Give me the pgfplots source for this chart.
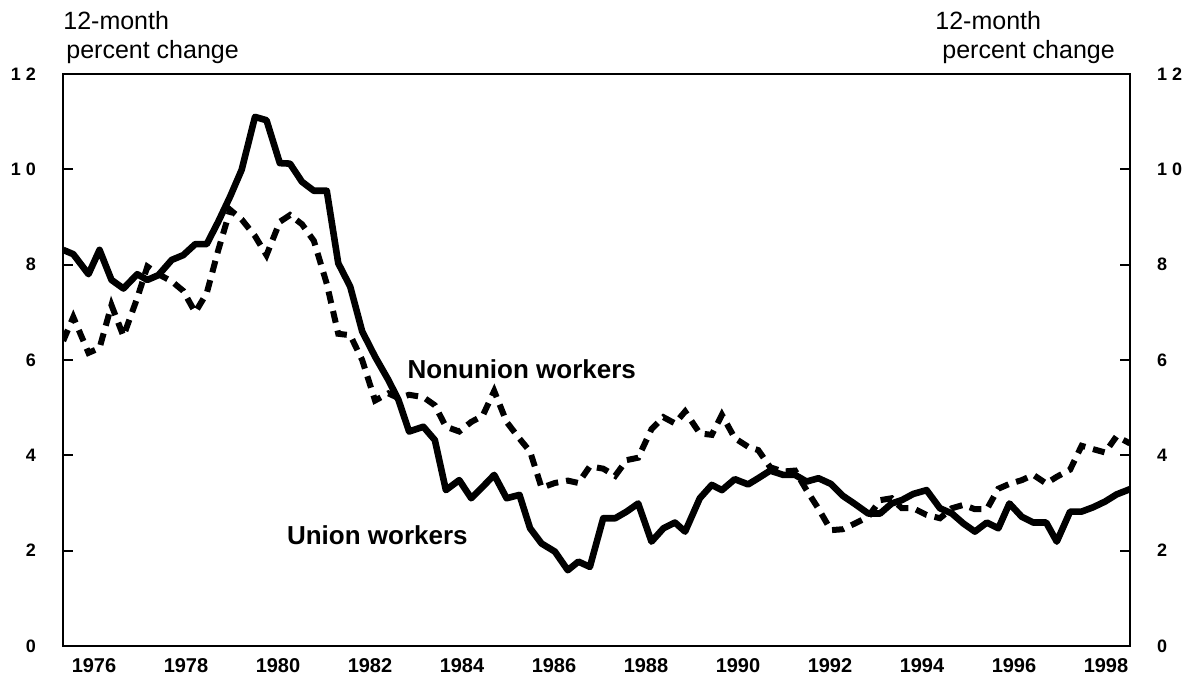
\documentclass[border=0pt]{standalone}
\usepackage{pgfplots}
\usepackage{pgfplotstable}
\pgfplotsset{compat=1.18}
\usepackage{fontspec}
\setmainfont{Liberation Sans}

\pgfplotstableread{
year union nonunion
1975.33 8.31 6.40
1975.55 8.22 6.90
1975.88 7.80 6.15
1976.12 8.31 6.25
1976.38 7.68 7.15
1976.64 7.50 6.50
1976.94 7.80 7.30
1977.16 7.68 7.96
1977.40 7.78 7.80
1977.69 8.10 7.65
1977.94 8.20 7.45
1978.20 8.43 7.00
1978.45 8.43 7.40
1978.70 8.90 8.30
1978.96 9.43 9.15
1979.21 9.99 8.95
1979.50 11.10 8.60
1979.75 11.03 8.20
1980.04 10.13 8.90
1980.26 10.12 9.04
1980.52 9.74 8.85
1980.78 9.55 8.50
1981.06 9.55 7.60
1981.31 8.03 6.55
1981.57 7.54 6.52
1981.83 6.60 6.00
1982.11 6.07 5.15
1982.40 5.58 5.30
1982.62 5.16 5.20
1982.85 4.50 5.27
1983.16 4.60 5.22
1983.41 4.32 5.05
1983.65 3.27 4.60
1983.94 3.48 4.50
1984.20 3.10 4.70
1984.45 3.34 4.83
1984.70 3.59 5.35
1984.97 3.10 4.70
1985.25 3.17 4.35
1985.48 2.47 4.08
1985.73 2.15 3.32
1986.02 1.98 3.42
1986.30 1.59 3.47
1986.53 1.77 3.42
1986.78 1.66 3.77
1987.07 2.68 3.72
1987.33 2.68 3.57
1987.58 2.82 3.90
1987.83 2.99 3.95
1988.12 2.19 4.55
1988.38 2.47 4.80
1988.63 2.59 4.67
1988.85 2.40 4.92
1989.17 3.10 4.46
1989.43 3.38 4.43
1989.65 3.27 4.85
1989.93 3.50 4.36
1990.22 3.39 4.18
1990.44 3.52 4.11
1990.70 3.68 3.75
1990.98 3.59 3.66
1991.24 3.59 3.68
1991.49 3.45 3.27
1991.75 3.52 2.88
1992.02 3.40 2.43
1992.28 3.15 2.45
1992.54 2.98 2.57
1992.83 2.78 2.71
1993.09 2.78 3.06
1993.34 2.99 3.10
1993.56 3.06 2.89
1993.81 3.19 2.89
1994.10 3.27 2.75
1994.39 2.89 2.68
1994.65 2.78 2.89
1994.90 2.57 2.96
1995.15 2.40 2.87
1995.41 2.59 2.87
1995.66 2.47 3.30
1995.90 2.99 3.40
1996.17 2.71 3.48
1996.42 2.59 3.59
1996.70 2.59 3.41
1996.93 2.19 3.55
1997.22 2.82 3.70
1997.47 2.82 4.20
1997.72 2.91 4.13
1997.98 3.03 4.06
1998.23 3.18 4.40
1998.52 3.29 4.25
}\data

\begin{document}
\begin{tikzpicture}
\path[use as bounding box] (-31.5pt,-17.5pt) rectangle (560pt,323pt);
\begin{axis}[
  at={(0,0)}, anchor=south west,
  scale only axis, width=533.5pt, height=286pt,
  xmin=1975.326, xmax=1998.522, ymin=0, ymax=12,
  axis line style={line width=1.3pt},
  xtick={1976,1978,...,1998},
  xticklabels={1976,1978,1980,1982,1984,1986,1988,1990,1992,\raisebox{1.5pt}{1994},1996,1998},
  x tick style={draw=none},
  xticklabel style={font=\bfseries\fontsize{10}{11}\selectfont, yshift=-2.5pt},
  ytick={0,2,...,12},
  yticklabels={0,2,4,6,8,{1 0},{1 2}},
  ytick pos=both, yticklabel pos=left,
  tick align=inside, major tick length=5pt,
  y tick style={line width=0.9pt, black},
  yticklabel style={font=\bfseries\fontsize{9}{10}\selectfont, xshift=-10pt},
]
\addplot[black, line width=3pt, dash pattern=on 6pt off 4pt] table[x=year,y=nonunion]{\data};
\addplot[black, line width=3.3pt, line join=round] table[x=year,y=union]{\data};
\node[font=\bfseries\fontsize{13}{14}\selectfont, inner sep=0pt] at (axis cs:1985.30,5.81) {Nonunion workers};
\node[font=\bfseries\fontsize{13}{14}\selectfont, inner sep=0pt] at (axis cs:1982.16,2.33) {Union workers};
\end{axis}
\begin{axis}[
  at={(0,0)}, anchor=south west,
  scale only axis, width=533.5pt, height=286pt,
  xmin=1975.326, xmax=1998.522, ymin=0, ymax=12,
  hide x axis, axis y line*=right,
  y axis line style={draw=none},
  ytick={0,2,...,12},
  yticklabels={0,2,4,6,8,{1 0},{1 2}},
  major tick length=0pt,
  yticklabel style={font=\bfseries\fontsize{9}{10}\selectfont, xshift=10pt},
]
\end{axis}
\node[anchor=base west, inner sep=0pt, font=\fontsize{12.5}{14}\selectfont] at (0pt,308pt) {12-month};
\node[anchor=base west, inner sep=0pt, font=\fontsize{12.5}{14}\selectfont] at (1.5pt,293.5pt) {percent change};
\node[anchor=base west, inner sep=0pt, font=\fontsize{12.5}{14}\selectfont] at (436pt,308pt) {12-month};
\node[anchor=base west, inner sep=0pt, font=\fontsize{12.5}{14}\selectfont] at (439.5pt,293.5pt) {percent change};
\end{tikzpicture}
\end{document}
